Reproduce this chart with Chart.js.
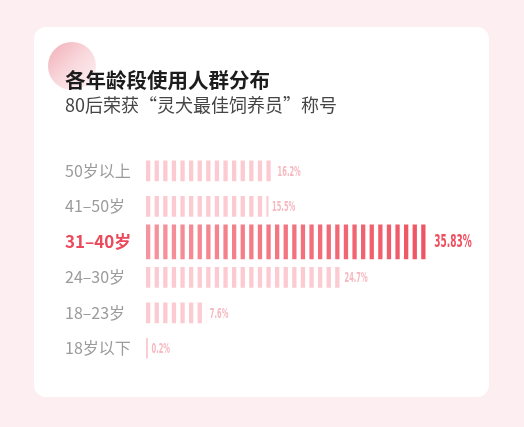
<!DOCTYPE html>
<html>
<head>
<meta charset="utf-8">
<script src="https://cdn.jsdelivr.net/npm/chart.js@4"></script>
<style>
  html, body { margin: 0; padding: 0; width: 524px; height: 427px; overflow: hidden; background: #fdeef1; }
  #card { position: absolute; left: 34px; top: 27px; width: 455px; height: 370px; background: #fff; border-radius: 12px; overflow: hidden; }
  #dot { position: absolute; left: 14px; top: 15px; width: 48px; height: 48px; border-radius: 50%;
         background: linear-gradient(135deg, #f2aeb6 0%, #f8d8dc 50%, #fff3f4 100%); }
  #wrap { position: absolute; left: 0; top: 0; width: 455px; height: 370px; }
</style>
</head>
<body>
<div id="card">
  <div id="dot"></div>
  <div id="wrap"><canvas id="ageChart"></canvas></div>
</div>
<script>
// data
const ageGroups = ['50岁以上', '41–50岁', '31–40岁', '24–30岁', '18–23岁', '18岁以下'];
const userShare = [16.2, 15.5, 35.83, 24.7, 7.6, 0.2];
const shareLabels = ['16.2%', '15.5%', '35.83%', '24.7%', '7.6%', '0.2%'];
const highlightIdx = 2;

const CJK = "'Noto Sans CJK SC', 'Noto Sans', sans-serif";
const NARROW = "'DejaVu Sans Condensed', 'Liberation Sans Narrow', sans-serif";

// split into two datasets so the highlighted row can be thicker
const normalData = userShare.map((v, i) => i === highlightIdx ? null : v);
const highlightData = userShare.map((v, i) => i === highlightIdx ? v : null);

// striped fill, anchored to the left edge of the chart area
const patternCache = {};
function stripeFill(chart, key, colors, x0, x1) {
  const area = chart.chartArea;
  if (!area) return colors[0];
  const id = key + '_' + chart.width + '_' + area.left + '_' + Math.round(x1 || 0);
  if (patternCache[id]) return patternCache[id];
  const c = document.createElement('canvas');
  c.width = chart.width;
  c.height = 1;
  const g = c.getContext('2d');
  if (colors.length > 1) {
    const grad = g.createLinearGradient(x0, 0, x1, 0);
    grad.addColorStop(0, colors[0]);
    grad.addColorStop(1, colors[1]);
    g.fillStyle = grad;
  } else {
    g.fillStyle = colors[0];
  }
  for (let x = area.left; x < area.right + 20; x += 8.6) {
    g.fillRect(x, 0, 4.3, 1);
  }
  patternCache[id] = chart.ctx.createPattern(c, 'repeat');
  return patternCache[id];
}

// value labels after the bars, condensed face squeezed further
const valueLabels = {
  id: 'valueLabels',
  afterDatasetsDraw(chart) {
    const ctx = chart.ctx;
    chart.data.datasets.forEach((ds, di) => {
      const meta = chart.getDatasetMeta(di);
      meta.data.forEach((bar, i) => {
        if (ds.data[i] == null) return;
        const hi = i === highlightIdx;
        ctx.save();
        ctx.translate(bar.x + (hi ? 6 : 4), bar.y + 1);
        ctx.scale(hi ? 0.57 : 0.51, 1);
        ctx.font = hi ? 'bold 17.5px ' + NARROW : 'bold 14.5px ' + NARROW;
        ctx.fillStyle = hi ? '#ee4f5f' : '#f6b9c0';
        ctx.textBaseline = 'middle';
        ctx.textAlign = 'left';
        ctx.fillText(shareLabels[i], 0, 0);
        ctx.restore();
      });
    });
  }
};

const chart = new Chart(document.getElementById('ageChart'), {
  type: 'bar',
  data: {
    labels: ageGroups,
    datasets: [{
      label: 'share',
      data: normalData,
      barThickness: 20,
      backgroundColor: c => stripeFill(c.chart, 'pale', ['#fbcbd1']),
    }, {
      label: 'highlight',
      data: highlightData,
      barThickness: 34,
      backgroundColor: c => {
        const area = c.chart.chartArea;
        if (!area) return '#f27883';
        const xs = c.chart.scales.x;
        return stripeFill(c.chart, 'hot', ['#f6949d', '#ee5462'],
          xs.getPixelForValue(0), xs.getPixelForValue(userShare[highlightIdx]));
      }
    }]
  },
  options: {
    indexAxis: 'y',
    responsive: true,
    maintainAspectRatio: false,
    animation: false,
    datasets: { bar: { grouped: false } },
    layout: { padding: { left: 31, right: 20, top: 41, bottom: 31 } },
    scales: {
      x: { display: false, min: 0, max: 41 },
      y: {
        grid: { display: false },
        border: { display: false },
        afterFit: scale => { scale.width = 81; },
        ticks: {
          crossAlign: 'far',
          padding: 0,
          color: c => c.index === highlightIdx ? '#ea4a5b' : '#9b9b9b',
          font: c => c.index === highlightIdx
            ? { size: 17, weight: 'bold', family: CJK }
            : { size: 16, family: CJK }
        }
      }
    },
    plugins: {
      legend: { display: false },
      tooltip: { enabled: false },
      title: {
        display: true,
        text: '各年龄段使用人群分布',
        align: 'start',
        color: '#1c1c1c',
        font: { size: 20.5, weight: 'bold', family: CJK },
        padding: { top: 0, bottom: 2 }
      },
      subtitle: {
        display: true,
        text: '80后荣获“灵犬最佳饲养员”称号',
        align: 'start',
        color: '#454545',
        font: { size: 18, family: CJK },
        padding: { top: 0, bottom: 37 }
      }
    }
  },
  plugins: [valueLabels]
});
</script>
</body>
</html>
